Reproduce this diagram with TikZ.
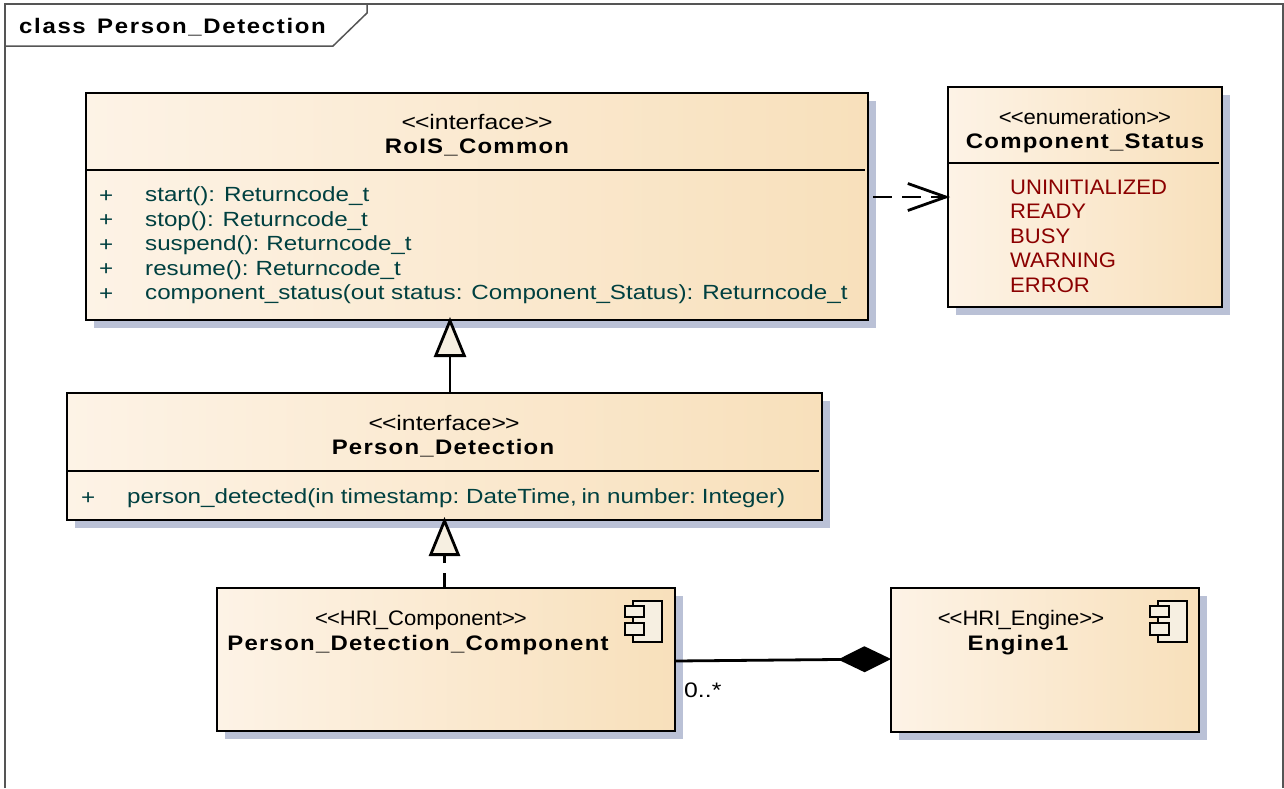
\documentclass[tikz,border=0pt]{standalone}
\usepackage{fontspec}
\setmainfont{Liberation Sans}[FakeStretch=1.18]
\newfontfamily\namefont[LetterSpace=6,FakeStretch=1.14]{Liberation Sans}
\newfontfamily\titlefont[LetterSpace=8,FakeStretch=1.14]{Liberation Sans}
\newfontfamily\enumfont[FakeStretch=1.05]{Liberation Sans}
\newfontfamily\tightfont[FakeStretch=1.05]{Liberation Sans}
\usetikzlibrary{arrows.meta,shadows}

\definecolor{boxleft}{HTML}{FDF3E6}
\definecolor{boxright}{HTML}{F8E0BB}
\definecolor{shadowblue}{HTML}{BAC1D6}
\definecolor{opteal}{HTML}{004040}
\definecolor{enumred}{HTML}{8B0000}
\definecolor{headcream}{HTML}{F6EFE1}
\definecolor{framegray}{HTML}{555555}

\newcommand{\stereoleft}{{<}\kern-1pt{<}}
\newcommand{\stereoright}{{>}\kern-1pt{>}}

\tikzset{
    umlbox/.style={draw, line width=2.8pt, outer sep=0pt, left color=boxleft, right color=boxright,
        drop shadow={shadow xshift=8pt, shadow yshift=-8pt, fill=shadowblue, opacity=1}},
    stereo/.style={font=\fontsize{21}{24}\selectfont, inner sep=0pt},
    stereotight/.style={font=\tightfont\fontsize{21}{24}\selectfont, inner sep=0pt},
    umlname/.style={font=\namefont\bfseries\fontsize{21}{24}\selectfont, inner sep=0pt},
    oplist/.style={font=\fontsize{20.5}{24.5}\selectfont, text=opteal, align=left, inner sep=0pt, anchor=west},
    enumlist/.style={font=\enumfont\fontsize{21}{24.5}\selectfont, text=enumred, align=left, inner sep=0pt, anchor=west},
    divline/.style={line width=2.8pt},
    iconbox/.style={draw, line width=2.8pt, fill=headcream},
    conn/.style={line width=2.8pt}
}

\begin{document}
\begin{tikzpicture}[x=1pt, y=-1pt]

        \useasboundingbox (0,0) rectangle (1284,788);

        % ------------------ Frame ------------------

        \draw[framegray, line width=1.5pt] (5,788) -- (5,4) -- (1283,4) -- (1283,788);
        \draw[framegray, line width=1.5pt] (5,46) -- (333,46) -- (367,13) -- (367,4);
        \node[font=\titlefont\bfseries\fontsize{21}{24}\selectfont, inner sep=0pt, anchor=west] (frametitle) at (19,27) {class\kern3pt{} Person\_Detection};

        % ------------------ Boxes ------------------

        % RoIS_Common
        \node[umlbox, minimum width=782pt, minimum height=227pt] (rois) at (477,206.5) {};
        \draw[divline] (86,170) -- (865,170);
        \node[stereo] (roisstereo) at (477,122) {\stereoleft interface\stereoright};
        \node[umlname] (roisname) at (477,147) {RoIS\_Common};
        \node[oplist] (roissign) at (99,245.5) {+\\+\\+\\+\\+};
        \node[oplist] (roisops) at (145,245.5) {start(): Returncode\_t\\stop(): Returncode\_t\\suspend():\kern-2pt{} Returncode\_t\\resume():\kern-2pt{} Returncode\_t\\component\_status(out status: Component\_Status): Returncode\_t};

        % Component_Status
        \node[umlbox, minimum width=274pt, minimum height=220pt] (status) at (1085,197) {};
        \draw[divline] (948,163) -- (1219,163);
        \node[stereotight] (statusstereo) at (1085,117) {\stereoleft enumeration\stereoright};
        \node[umlname] (statusname) at (1085,143) {Component\_Status};
        \node[enumlist] (statuslits) at (1010,236) {UNINITIALIZED\\READY\\BUSY\\WARNING\\ERROR};

        % Person_Detection
        \node[umlbox, minimum width=755pt, minimum height=127pt] (pd) at (444.5,456.5) {};
        \draw[divline] (67,471) -- (819,471);
        \node[stereo] (pdstereo) at (444,423) {\stereoleft interface\stereoright};
        \node[umlname] (pdname) at (443,448) {Person\_Detection};
        \node[oplist] (pdsign) at (81,498.5) {+};
        \node[oplist] (pdops) at (127,498.5) {person\_detected(in timestamp:\kern-2pt{} DateTime,\kern-2pt{} in number:\kern-3pt{} Integer)};

        % Person_Detection_Component
        \node[umlbox, minimum width=458pt, minimum height=143pt] (comp) at (446,659.5) {};
        \node[stereotight] (compstereo) at (421,620) {\stereoleft HRI\kern-2pt\_Component\stereoright};
        \node[umlname] (compname) at (418,645) {Person\_Detection\_Component};
        \draw[iconbox] (633,601) rectangle (662,642);
        \draw[iconbox] (625,606) rectangle (644,617);
        \draw[iconbox] (625,623) rectangle (644,635);

        % Engine1
        \node[umlbox, minimum width=308pt, minimum height=144pt] (engine) at (1045,660) {};
        \node[stereotight] (enginestereo) at (1021,620) {\stereoleft HRI\kern-2pt\_Engine\stereoright};
        \node[umlname] (enginename) at (1018,645) {Engine1};
        \draw[iconbox] (1158,601) rectangle (1187,642);
        \draw[iconbox] (1150,606) rectangle (1169,617);
        \draw[iconbox] (1150,623) rectangle (1169,635);

        % ------------------ Connectors ------------------

        % Dependency
        \draw[conn, dash pattern=on 19pt off 10pt, shorten >=-2pt, -{Straight Barb[length=38pt, width=27pt, line width=2.8pt]}]
            ([xshift=5pt]status.west -| rois.east) -- (status.west);

        % Generalization
        \draw[conn, shorten >=-3pt, -{Triangle[open, fill=headcream, length=40pt, width=32pt, line width=2.8pt]}]
            ([xshift=5.5pt]pd.north) -- ([xshift=-27pt]rois.south);

        % Realization
        \draw[conn, dash pattern=on 15pt off 10pt, shorten >=-3pt, -{Triangle[open, fill=headcream, length=39pt, width=31pt, line width=2.8pt]}]
            ([xshift=-1.5pt]comp.north) -- (pd.south);

        % Composition
        \draw[conn, -{Diamond[length=53pt, width=26pt, black]}]
            ([yshift=-1.5pt]comp.east) -- ([yshift=1pt]engine.west);
        \node[font=\fontsize{21}{24}\selectfont, inner sep=0pt, anchor=west] (multi) at (684,690) {0..*};

\end{tikzpicture}
\end{document}
